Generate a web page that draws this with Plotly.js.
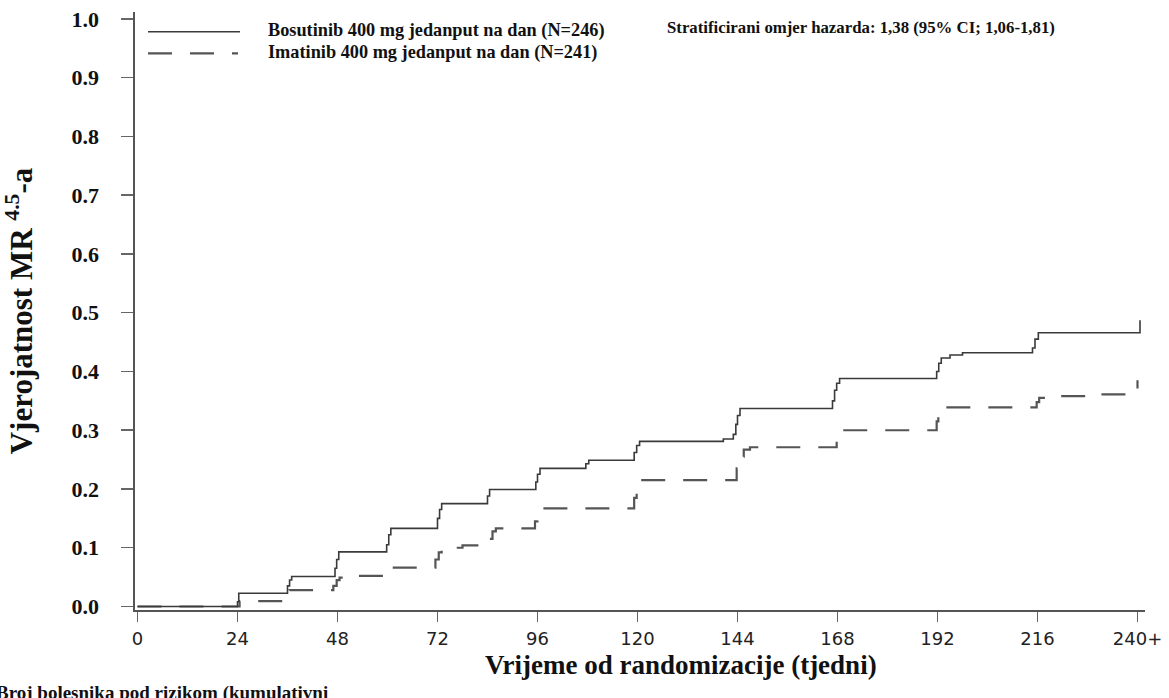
<!DOCTYPE html>
<html>
<head>
<meta charset="utf-8">
<script src="https://cdn.plot.ly/plotly-3.0.1.min.js"></script>
<style>html,body{margin:0;padding:0;background:#fff;}#chart{width:1169px;height:698px;}</style>
</head>
<body>
<div id="chart"></div>
<script>
// Bosutinib 400 mg (solid) – cumulative probability of MR4.5
const bosWeeks = [0, 24.0, 24.3, 36.0, 36.5, 37.0, 47.4, 47.8, 48.3, 59.8, 60.3, 60.8, 72.0, 72.5, 73.0, 84.0, 84.5, 95.6, 96.0, 96.6, 107.6, 108.3, 119.2, 119.8, 120.5, 140.6, 143.0, 143.6, 144.0, 144.6, 166.8, 167.3, 167.8, 168.5, 191.8, 192.3, 192.9, 195.0, 198.0, 214.8, 215.4, 216.2, 240.6, 240.6];
const bosProb  = [0, 0.008, 0.0225, 0.035, 0.045, 0.051, 0.065, 0.080, 0.093, 0.105, 0.122, 0.133, 0.150, 0.165, 0.175, 0.188, 0.199, 0.212, 0.225, 0.235, 0.243, 0.249, 0.262, 0.274, 0.281, 0.285, 0.293, 0.310, 0.325, 0.337, 0.350, 0.368, 0.380, 0.388, 0.400, 0.414, 0.423, 0.428, 0.432, 0.440, 0.455, 0.466, 0.466, 0.487];

// Imatinib 400 mg (dashed)
const imaWeeks = [0, 24.5, 36.0, 36.5, 47.0, 47.8, 48.5, 52.0, 60.0, 61.0, 71.5, 72.3, 73.0, 78.0, 84.5, 85.2, 86.0, 95.4, 96.0, 96.6, 119.2, 119.8, 120.6, 143.8, 144.5, 145.5, 147.0, 167.8, 168.4, 169.0, 191.8, 192.2, 192.8, 215.8, 216.4, 220.0, 228.0, 240.0, 240.0];
const imaProb  = [0, 0.009, 0.020, 0.028, 0.035, 0.045, 0.049, 0.052, 0.060, 0.066, 0.080, 0.092, 0.100, 0.104, 0.115, 0.128, 0.133, 0.145, 0.158, 0.167, 0.185, 0.203, 0.215, 0.235, 0.255, 0.267, 0.271, 0.285, 0.298, 0.300, 0.315, 0.330, 0.339, 0.348, 0.355, 0.358, 0.361, 0.361, 0.385];

const xTickVals = [0, 24, 48, 72, 96, 120, 144, 168, 192, 216, 240];
const xTickText = ['0', '24', '48', '72', '96', '120', '144', '168', '192', '216', '240+'];
const yTickVals = [0, 0.1, 0.2, 0.3, 0.4, 0.5, 0.6, 0.7, 0.8, 0.9, 1.0];
const yTickText = ['0.0', '0.1', '0.2', '0.3', '0.4', '0.5', '0.6', '0.7', '0.8', '0.9', '1.0'];

const seriesNames = ['Bosutinib 400 mg jedanput na dan (N=246)', 'Imatinib 400 mg jedanput na dan (N=241)'];
const hazardText = 'Stratificirani omjer hazarda: 1,38 (95% CI; 1,06-1,81)';
const xTitle = 'Vrijeme od randomizacije (tjedni)';
const yTitle = 'Vjerojatnost MR <sup>4.5</sup>-a';
const footText = 'Broj bolesnika pod rizikom (kumulativni';

const serif = '"Liberation Serif", "Times New Roman", serif';
const sans = '"DejaVu Sans", Verdana, sans-serif';

const traces = [
  {x: imaWeeks, y: imaProb, type: 'scatter', mode: 'lines', name: seriesNames[1],
   line: {shape: 'hv', color: '#555555', width: 2.2, dash: '24px,18px'}, hoverinfo: 'x+y'},
  {x: bosWeeks, y: bosProb, type: 'scatter', mode: 'lines', name: seriesNames[0],
   line: {shape: 'hv', color: '#3a3a3a', width: 1.6}, hoverinfo: 'x+y'}
];

// plot area: x 135..1145 px, y 12..610 px
const px = v => (v - 135) / 1010;
const py = v => (610 - v) / 598;

const layout = {
  width: 1169, height: 698,
  margin: {l: 135, r: 24, t: 12, b: 88, pad: 0},
  paper_bgcolor: '#ffffff', plot_bgcolor: '#ffffff',
  showlegend: false,
  xaxis: {
    range: [-0.6, 241.8], tickvals: xTickVals, ticktext: xTickText,
    showgrid: false, zeroline: false, showline: true, linecolor: '#555', linewidth: 1.6,
    ticks: 'outside', ticklen: 10, tickwidth: 1.5, tickcolor: '#666',
    tickfont: {family: sans, size: 18, color: '#222'}, ticklabelstandoff: 2, fixedrange: true
  },
  yaxis: {
    range: [-0.006, 1.0119], tickvals: yTickVals, ticktext: yTickText,
    showgrid: false, zeroline: false, showline: true, linecolor: '#555', linewidth: 1.6,
    ticks: 'outside', ticklen: 12, tickwidth: 1.5, tickcolor: '#666',
    tickfont: {family: serif, size: 22, color: '#111', weight: 'bold'}, ticklabelstandoff: 18,
    title: {text: yTitle, font: {family: serif, size: 31, color: '#111', weight: 'bold'}, standoff: 33},
    fixedrange: true
  },
  shapes: [
    {type: 'line', xref: 'paper', yref: 'paper', x0: px(148), x1: px(240), y0: py(31.7), y1: py(31.7),
     line: {color: '#3a3a3a', width: 1.6}},
    {type: 'line', xref: 'paper', yref: 'paper', x0: px(148), x1: px(238), y0: py(53.3), y1: py(53.3),
     line: {color: '#555555', width: 2.2, dash: '24px,18px'}}
  ],
  annotations: [
    {xref: 'paper', yref: 'paper', x: px(266), y: py(31), xanchor: 'left', yanchor: 'middle', showarrow: false,
     text: seriesNames[0], font: {family: serif, size: 18.3, color: '#111', weight: 'bold'}},
    {xref: 'paper', yref: 'paper', x: px(266), y: py(53), xanchor: 'left', yanchor: 'middle', showarrow: false,
     text: seriesNames[1], font: {family: serif, size: 18.3, color: '#111', weight: 'bold'}},
    {xref: 'paper', yref: 'paper', x: px(665), y: py(27.5), xanchor: 'left', yanchor: 'middle', showarrow: false,
     text: hazardText, font: {family: serif, size: 16.8, color: '#111', weight: 'bold'}},
    {xref: 'paper', yref: 'paper', x: px(681), y: py(665), xanchor: 'center', yanchor: 'middle', showarrow: false,
     text: xTitle, font: {family: serif, size: 27, color: '#111', weight: 'bold'}},
    {xref: 'paper', yref: 'paper', x: px(-6), y: py(680), xanchor: 'left', yanchor: 'top', showarrow: false,
     text: footText, font: {family: serif, size: 19, color: '#111', weight: 'bold'}}
  ]
};

Plotly.newPlot('chart', traces, layout, {displayModeBar: false, staticPlot: true});
</script>
</body>
</html>
